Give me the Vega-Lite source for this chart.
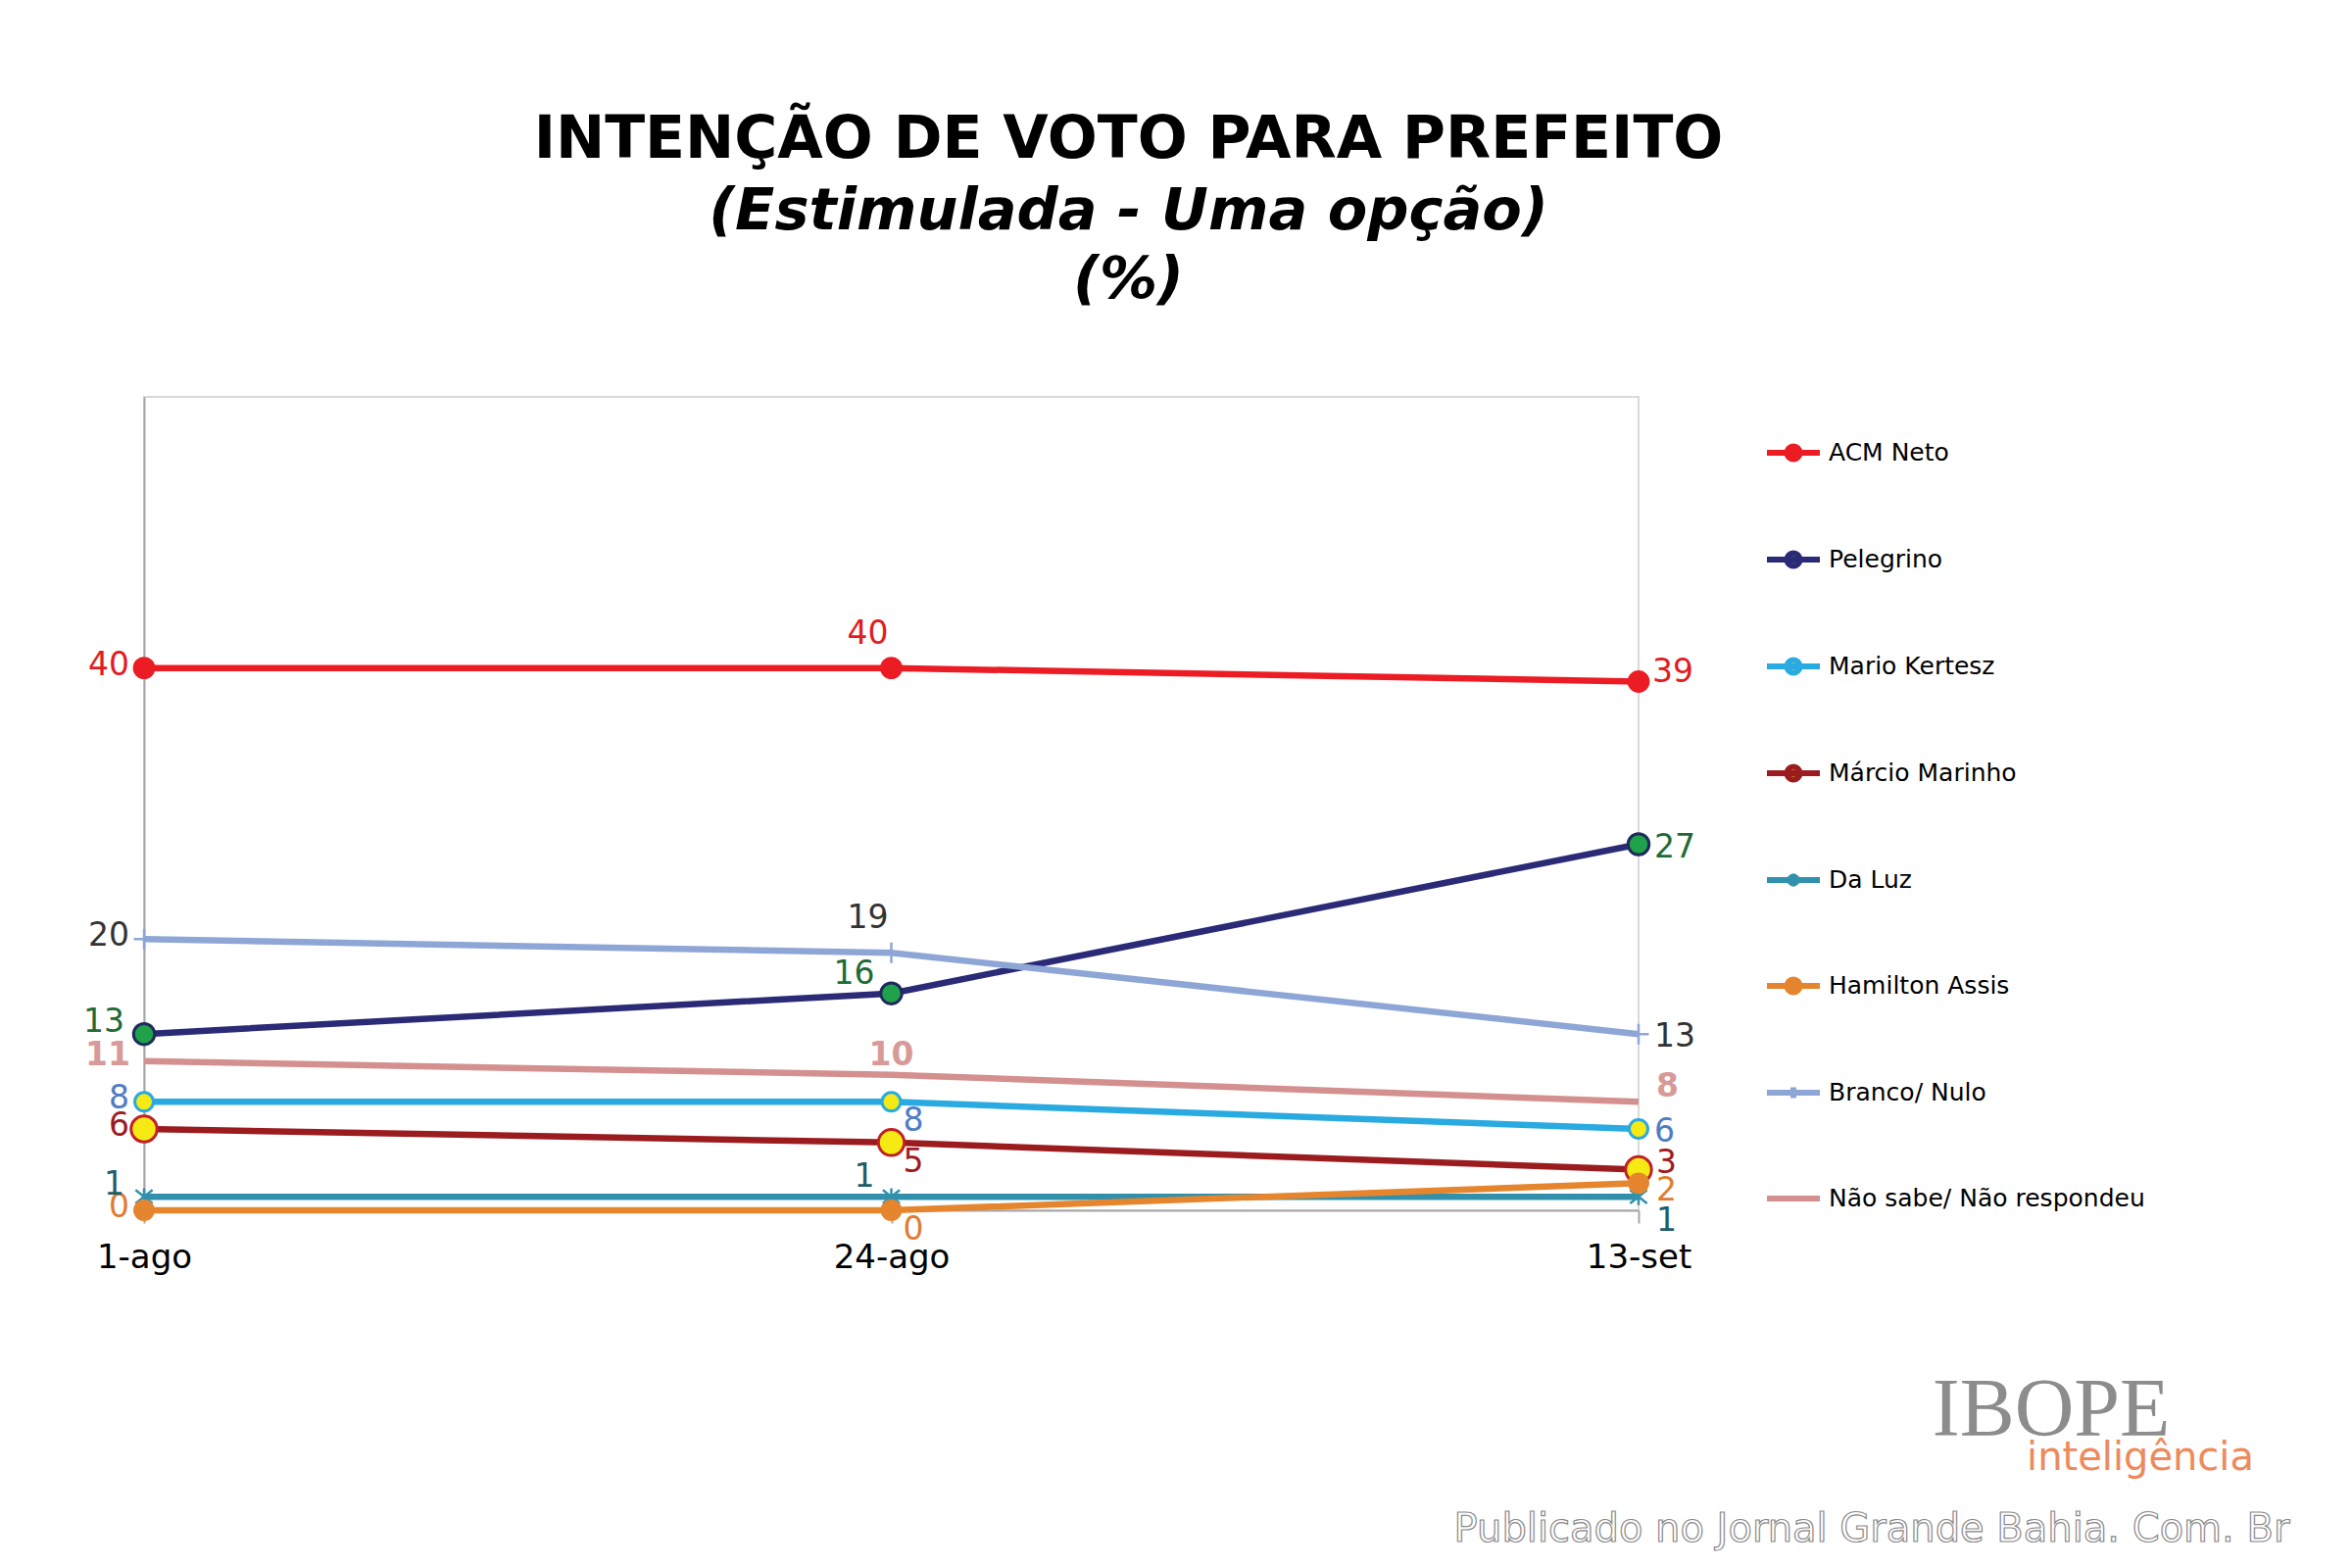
{
  "$schema": "https://vega.github.io/schema/vega-lite/v6.json",
  "width": 1525,
  "height": 830,
  "autosize": {"type": "none"},
  "padding": {"left": 147, "top": 405, "right": 728, "bottom": 365},
  "background": "white",
  "title": {
    "text": "INTENÇÃO DE VOTO PARA PREFEITO",
    "subtitle": ["(Estimulada - Uma opção)", "(%)"],
    "anchor": "middle",
    "frame": "group",
    "dx": 242,
    "offset": 88,
    "font": "DejaVu Sans",
    "fontSize": 60,
    "fontWeight": "bold",
    "color": "black",
    "subtitleFont": "DejaVu Sans",
    "subtitleFontSize": 59,
    "subtitleFontStyle": "italic",
    "subtitleFontWeight": "bold",
    "subtitleColor": "black",
    "subtitleLineHeight": 70,
    "subtitlePadding": 13
  },
  "data": {
    "values": [
      {"date": "1-ago", "series": "ACM Neto", "value": 40},
      {"date": "24-ago", "series": "ACM Neto", "value": 40},
      {"date": "13-set", "series": "ACM Neto", "value": 39},
      {"date": "1-ago", "series": "Pelegrino", "value": 13},
      {"date": "24-ago", "series": "Pelegrino", "value": 16},
      {"date": "13-set", "series": "Pelegrino", "value": 27},
      {"date": "1-ago", "series": "Mario Kertesz", "value": 8},
      {"date": "24-ago", "series": "Mario Kertesz", "value": 8},
      {"date": "13-set", "series": "Mario Kertesz", "value": 6},
      {"date": "1-ago", "series": "Márcio Marinho", "value": 6},
      {"date": "24-ago", "series": "Márcio Marinho", "value": 5},
      {"date": "13-set", "series": "Márcio Marinho", "value": 3},
      {"date": "1-ago", "series": "Da Luz", "value": 1},
      {"date": "24-ago", "series": "Da Luz", "value": 1},
      {"date": "13-set", "series": "Da Luz", "value": 1},
      {"date": "1-ago", "series": "Hamilton Assis", "value": 0},
      {"date": "24-ago", "series": "Hamilton Assis", "value": 0},
      {"date": "13-set", "series": "Hamilton Assis", "value": 2},
      {"date": "1-ago", "series": "Branco/ Nulo", "value": 20},
      {"date": "24-ago", "series": "Branco/ Nulo", "value": 19},
      {"date": "13-set", "series": "Branco/ Nulo", "value": 13},
      {"date": "1-ago", "series": "Não sabe/ Não respondeu", "value": 11},
      {"date": "24-ago", "series": "Não sabe/ Não respondeu", "value": 10},
      {"date": "13-set", "series": "Não sabe/ Não respondeu", "value": 8}
    ]
  },
  "encoding": {
    "x": {
      "field": "date",
      "type": "nominal",
      "sort": ["1-ago", "24-ago", "13-set"],
      "scale": {"type": "point", "domain": ["1-ago", "24-ago", "13-set"], "padding": 0},
      "axis": {
        "title": null,
        "labelAngle": 0,
        "labelFont": "DejaVu Sans",
        "labelFontSize": 34,
        "labelColor": "black",
        "labelPadding": 18,
        "tickSize": 13,
        "tickColor": "#a6a6a6",
        "tickWidth": 2,
        "domainColor": "#a6a6a6",
        "domainWidth": 2,
        "grid": false
      }
    },
    "y": {
      "field": "value",
      "type": "quantitative",
      "scale": {"domain": [0, 60], "nice": false},
      "axis": {"title": null, "labels": false, "ticks": false, "grid": false, "domainColor": "#a6a6a6", "domainWidth": 2}
    }
  },
  "layer": [
    {
      "mark": {"type": "line", "strokeWidth": 6.5},
      "encoding": {
        "color": {
          "field": "series",
          "type": "nominal",
          "scale": {
            "domain": ["ACM Neto", "Pelegrino", "Mario Kertesz", "Márcio Marinho", "Da Luz", "Hamilton Assis", "Branco/ Nulo", "Não sabe/ Não respondeu"],
            "range": ["#ec1c24", "#2b2a76", "#29aae1", "#9b1c1f", "#3191ad", "#e5852e", "#8ea6d6", "#d4908f"]
          },
          "legend": {
            "orient": "none",
            "legendX": 1653,
            "legendY": 27,
            "title": null,
            "direction": "vertical",
            "symbolType": "M-1,0L1,0M0.24,0A0.24,0.24,0,1,1,-0.24,0A0.24,0.24,0,1,1,0.24,0Z",
            "symbolSize": 2916,
            "symbolStrokeWidth": 6,
            "labelFont": "DejaVu Sans",
            "labelFontSize": 25,
            "labelColor": "black",
            "labelOffset": 6,
            "labelLimit": 700,
            "rowPadding": 60,
            "encode": {
              "symbols": {
                "update": {
                  "shape": [
                    {"test": "datum.value === 'Da Luz'", "value": "M-1,0L1,0M-0.12,-0.2L0.12,0.2M-0.12,0.2L0.12,-0.2M0,-0.22L0,0.22"},
                    {"test": "datum.value === 'Branco/ Nulo'", "value": "M-1,0L1,0M0,-0.2L0,0.2"},
                    {"test": "datum.value === 'Não sabe/ Não respondeu'", "value": "M-1,0L1,0"},
                    {"value": "M-1,0L1,0M0.24,0A0.24,0.24,0,1,1,-0.24,0A0.24,0.24,0,1,1,0.24,0Z"}
                  ],
                  "fill": [
                    {"test": "datum.value === 'ACM Neto'", "value": "#ec1c24"},
                    {"test": "datum.value === 'Pelegrino'", "value": "#1fa24a"},
                    {"test": "datum.value === 'Mario Kertesz' || datum.value === 'Márcio Marinho'", "value": "#f6ea15"},
                    {"test": "datum.value === 'Hamilton Assis'", "value": "#e5852e"},
                    {"value": "transparent"}
                  ]
                }
              }
            }
          }
        }
      }
    },
    {
      "transform": [{"filter": "datum.series === 'ACM Neto'"}],
      "mark": {"type": "point", "shape": "circle", "filled": true, "size": 520, "fill": "#ec1c24", "opacity": 1}
    },
    {
      "transform": [{"filter": "datum.series === 'Pelegrino'"}],
      "mark": {"type": "point", "shape": "circle", "filled": true, "size": 460, "fill": "#1fa24a", "stroke": "#1f2a5c", "strokeWidth": 3, "opacity": 1}
    },
    {
      "transform": [{"filter": "datum.series === 'Mario Kertesz'"}],
      "mark": {"type": "point", "shape": "circle", "filled": true, "size": 360, "fill": "#f6ea15", "stroke": "#29aae1", "strokeWidth": 3, "opacity": 1}
    },
    {
      "transform": [{"filter": "datum.series === 'Márcio Marinho'"}],
      "mark": {"type": "point", "shape": "circle", "filled": true, "size": 700, "fill": "#f6ea15", "stroke": "#c22026", "strokeWidth": 3, "opacity": 1}
    },
    {
      "transform": [{"filter": "datum.series === 'Da Luz'"}],
      "mark": {"type": "point", "shape": "M-1,-0.8L1,0.8M-1,0.8L1,-0.8M0,-1L0,1", "filled": false, "size": 300, "stroke": "#3191ad", "strokeWidth": 2.5, "opacity": 1}
    },
    {
      "transform": [{"filter": "datum.series === 'Hamilton Assis'"}],
      "mark": {"type": "point", "shape": "circle", "filled": true, "size": 480, "fill": "#e5852e", "opacity": 1}
    },
    {
      "transform": [{"filter": "datum.series === 'Branco/ Nulo'"}],
      "mark": {"type": "point", "shape": "M0,-1L0,1M-1,0L1,0", "filled": false, "size": 441, "stroke": "#8ea6d6", "strokeWidth": 2.5, "opacity": 1}
    },
    {
      "transform": [{"filter": {"and": [{"field": "date", "equal": "1-ago"}, {"field": "series", "oneOf": ["ACM Neto", "Branco/ Nulo", "Mario Kertesz", "Márcio Marinho", "Hamilton Assis"]}]}}],
      "mark": {"type": "text", "font": "DejaVu Sans", "fontSize": 33, "align": "right", "baseline": "middle", "dx": -15, "dy": -3},
      "encoding": {
        "text": {"field": "value", "type": "quantitative"},
        "color": {"field": "series", "type": "nominal", "legend": null,
          "scale": {"domain": ["ACM Neto", "Pelegrino", "Mario Kertesz", "Márcio Marinho", "Da Luz", "Hamilton Assis", "Branco/ Nulo", "Não sabe/ Não respondeu"],
                    "range": ["#e31b23", "#1e6b34", "#4f7cc4", "#9e1b1e", "#1d5c6b", "#e07b30", "#333333", "#d89a98"]}}
      }
    },
    {
      "transform": [{"filter": {"and": [{"field": "date", "equal": "1-ago"}, {"field": "series", "oneOf": ["Pelegrino", "Da Luz"]}]}}],
      "mark": {"type": "text", "font": "DejaVu Sans", "fontSize": 33, "align": "right", "baseline": "middle", "dx": -20, "dy": -12},
      "encoding": {
        "text": {"field": "value", "type": "quantitative"},
        "color": {"field": "series", "type": "nominal", "legend": null,
          "scale": {"domain": ["ACM Neto", "Pelegrino", "Mario Kertesz", "Márcio Marinho", "Da Luz", "Hamilton Assis", "Branco/ Nulo", "Não sabe/ Não respondeu"],
                    "range": ["#e31b23", "#1e6b34", "#4f7cc4", "#9e1b1e", "#1d5c6b", "#e07b30", "#333333", "#d89a98"]}}
      }
    },
    {
      "transform": [{"filter": {"and": [{"field": "date", "equal": "24-ago"}, {"field": "series", "oneOf": ["ACM Neto", "Branco/ Nulo"]}]}}],
      "mark": {"type": "text", "font": "DejaVu Sans", "fontSize": 33, "align": "center", "baseline": "middle", "dx": -24, "dy": -35},
      "encoding": {
        "text": {"field": "value", "type": "quantitative"},
        "color": {"field": "series", "type": "nominal", "legend": null,
          "scale": {"domain": ["ACM Neto", "Pelegrino", "Mario Kertesz", "Márcio Marinho", "Da Luz", "Hamilton Assis", "Branco/ Nulo", "Não sabe/ Não respondeu"],
                    "range": ["#e31b23", "#1e6b34", "#4f7cc4", "#9e1b1e", "#1d5c6b", "#e07b30", "#333333", "#d89a98"]}}
      }
    },
    {
      "transform": [{"filter": {"and": [{"field": "date", "equal": "24-ago"}, {"field": "series", "oneOf": ["Pelegrino", "Da Luz"]}]}}],
      "mark": {"type": "text", "font": "DejaVu Sans", "fontSize": 33, "align": "right", "baseline": "middle", "dx": -17, "dy": -20},
      "encoding": {
        "text": {"field": "value", "type": "quantitative"},
        "color": {"field": "series", "type": "nominal", "legend": null,
          "scale": {"domain": ["ACM Neto", "Pelegrino", "Mario Kertesz", "Márcio Marinho", "Da Luz", "Hamilton Assis", "Branco/ Nulo", "Não sabe/ Não respondeu"],
                    "range": ["#e31b23", "#1e6b34", "#4f7cc4", "#9e1b1e", "#1d5c6b", "#e07b30", "#333333", "#d89a98"]}}
      }
    },
    {
      "transform": [{"filter": {"and": [{"field": "date", "equal": "24-ago"}, {"field": "series", "oneOf": ["Mario Kertesz", "Márcio Marinho", "Hamilton Assis"]}]}}],
      "mark": {"type": "text", "font": "DejaVu Sans", "fontSize": 33, "align": "left", "baseline": "middle", "dx": 12, "dy": 20},
      "encoding": {
        "text": {"field": "value", "type": "quantitative"},
        "color": {"field": "series", "type": "nominal", "legend": null,
          "scale": {"domain": ["ACM Neto", "Pelegrino", "Mario Kertesz", "Márcio Marinho", "Da Luz", "Hamilton Assis", "Branco/ Nulo", "Não sabe/ Não respondeu"],
                    "range": ["#e31b23", "#1e6b34", "#4f7cc4", "#9e1b1e", "#1d5c6b", "#e07b30", "#333333", "#d89a98"]}}
      }
    },
    {
      "transform": [{"filter": {"and": [{"field": "date", "equal": "13-set"}, {"field": "series", "oneOf": ["Pelegrino", "Branco/ Nulo", "Mario Kertesz"]}]}}],
      "mark": {"type": "text", "font": "DejaVu Sans", "fontSize": 33, "align": "left", "baseline": "middle", "dx": 16, "dy": 3},
      "encoding": {
        "text": {"field": "value", "type": "quantitative"},
        "color": {"field": "series", "type": "nominal", "legend": null,
          "scale": {"domain": ["ACM Neto", "Pelegrino", "Mario Kertesz", "Márcio Marinho", "Da Luz", "Hamilton Assis", "Branco/ Nulo", "Não sabe/ Não respondeu"],
                    "range": ["#e31b23", "#1e6b34", "#4f7cc4", "#9e1b1e", "#1d5c6b", "#e07b30", "#333333", "#d89a98"]}}
      }
    },
    {
      "transform": [{"filter": {"and": [{"field": "date", "equal": "13-set"}, {"field": "series", "equal": "Márcio Marinho"}]}}],
      "mark": {"type": "text", "font": "DejaVu Sans", "fontSize": 33, "align": "left", "baseline": "middle", "dx": 18, "dy": -7},
      "encoding": {
        "text": {"field": "value", "type": "quantitative"},
        "color": {"field": "series", "type": "nominal", "legend": null,
          "scale": {"domain": ["ACM Neto", "Pelegrino", "Mario Kertesz", "Márcio Marinho", "Da Luz", "Hamilton Assis", "Branco/ Nulo", "Não sabe/ Não respondeu"],
                    "range": ["#e31b23", "#1e6b34", "#4f7cc4", "#9e1b1e", "#1d5c6b", "#e07b30", "#333333", "#d89a98"]}}
      }
    },
    {
      "transform": [{"filter": {"and": [{"field": "date", "equal": "13-set"}, {"field": "series", "equal": "Hamilton Assis"}]}}],
      "mark": {"type": "text", "font": "DejaVu Sans", "fontSize": 33, "align": "left", "baseline": "middle", "dx": 18, "dy": 8},
      "encoding": {
        "text": {"field": "value", "type": "quantitative"},
        "color": {"field": "series", "type": "nominal", "legend": null,
          "scale": {"domain": ["ACM Neto", "Pelegrino", "Mario Kertesz", "Márcio Marinho", "Da Luz", "Hamilton Assis", "Branco/ Nulo", "Não sabe/ Não respondeu"],
                    "range": ["#e31b23", "#1e6b34", "#4f7cc4", "#9e1b1e", "#1d5c6b", "#e07b30", "#333333", "#d89a98"]}}
      }
    },
    {
      "transform": [{"filter": {"and": [{"field": "date", "equal": "13-set"}, {"field": "series", "equal": "ACM Neto"}]}}],
      "mark": {"type": "text", "font": "DejaVu Sans", "fontSize": 33, "align": "left", "baseline": "middle", "dx": 14, "dy": -10},
      "encoding": {
        "text": {"field": "value", "type": "quantitative"},
        "color": {"field": "series", "type": "nominal", "legend": null,
          "scale": {"domain": ["ACM Neto", "Pelegrino", "Mario Kertesz", "Márcio Marinho", "Da Luz", "Hamilton Assis", "Branco/ Nulo", "Não sabe/ Não respondeu"],
                    "range": ["#e31b23", "#1e6b34", "#4f7cc4", "#9e1b1e", "#1d5c6b", "#e07b30", "#333333", "#d89a98"]}}
      }
    },
    {
      "transform": [{"filter": {"and": [{"field": "date", "equal": "13-set"}, {"field": "series", "equal": "Da Luz"}]}}],
      "mark": {"type": "text", "font": "DejaVu Sans", "fontSize": 33, "align": "left", "baseline": "middle", "dx": 18, "dy": 25},
      "encoding": {
        "text": {"field": "value", "type": "quantitative"},
        "color": {"field": "series", "type": "nominal", "legend": null,
          "scale": {"domain": ["ACM Neto", "Pelegrino", "Mario Kertesz", "Márcio Marinho", "Da Luz", "Hamilton Assis", "Branco/ Nulo", "Não sabe/ Não respondeu"],
                    "range": ["#e31b23", "#1e6b34", "#4f7cc4", "#9e1b1e", "#1d5c6b", "#e07b30", "#333333", "#d89a98"]}}
      }
    },
    {
      "transform": [{"filter": {"and": [{"field": "date", "equal": "1-ago"}, {"field": "series", "equal": "Não sabe/ Não respondeu"}]}}],
      "mark": {"type": "text", "font": "DejaVu Sans", "fontSize": 33, "fontWeight": "bold", "align": "right", "baseline": "middle", "dx": -14, "dy": -6, "color": "#d89a98"},
      "encoding": {"text": {"field": "value", "type": "quantitative"}}
    },
    {
      "transform": [{"filter": {"and": [{"field": "date", "equal": "24-ago"}, {"field": "series", "equal": "Não sabe/ Não respondeu"}]}}],
      "mark": {"type": "text", "font": "DejaVu Sans", "fontSize": 33, "fontWeight": "bold", "align": "center", "baseline": "middle", "dx": 0, "dy": -20, "color": "#d89a98"},
      "encoding": {"text": {"field": "value", "type": "quantitative"}}
    },
    {
      "transform": [{"filter": {"and": [{"field": "date", "equal": "13-set"}, {"field": "series", "equal": "Não sabe/ Não respondeu"}]}}],
      "mark": {"type": "text", "font": "DejaVu Sans", "fontSize": 33, "fontWeight": "bold", "align": "left", "baseline": "middle", "dx": 18, "dy": -15, "color": "#d89a98"},
      "encoding": {"text": {"field": "value", "type": "quantitative"}}
    },
    {
      "transform": [{"filter": {"and": [{"field": "date", "equal": "13-set"}, {"field": "series", "equal": "Hamilton Assis"}]}}],
      "mark": {"type": "text", "text": "IBOPE", "font": "Liberation Serif", "fontSize": 84, "align": "center", "baseline": "alphabetic", "dx": 421, "dy": 258, "color": "#8c8c8c"},
      "encoding": {}
    },
    {
      "transform": [{"filter": {"and": [{"field": "date", "equal": "13-set"}, {"field": "series", "equal": "Hamilton Assis"}]}}],
      "mark": {"type": "text", "text": "inteligência", "font": "DejaVu Sans", "fontSize": 40, "align": "center", "baseline": "alphabetic", "dx": 512, "dy": 293, "color": "#ee8a5c"},
      "encoding": {}
    },
    {
      "transform": [{"filter": {"and": [{"field": "date", "equal": "13-set"}, {"field": "series", "equal": "Hamilton Assis"}]}}],
      "mark": {"type": "text", "text": "Publicado no Jornal Grande Bahia. Com. Br", "font": "DejaVu Sans", "fontSize": 40, "align": "center", "baseline": "alphabetic", "dx": 238, "dy": 366, "fill": "#ffffff", "stroke": "#8a8a8a", "strokeWidth": 1.2},
      "encoding": {}
    }
  ],
  "resolve": {"scale": {"color": "independent"}},
  "config": {
    "view": {"stroke": "#d9d9d9", "strokeWidth": 2}
  }
}
